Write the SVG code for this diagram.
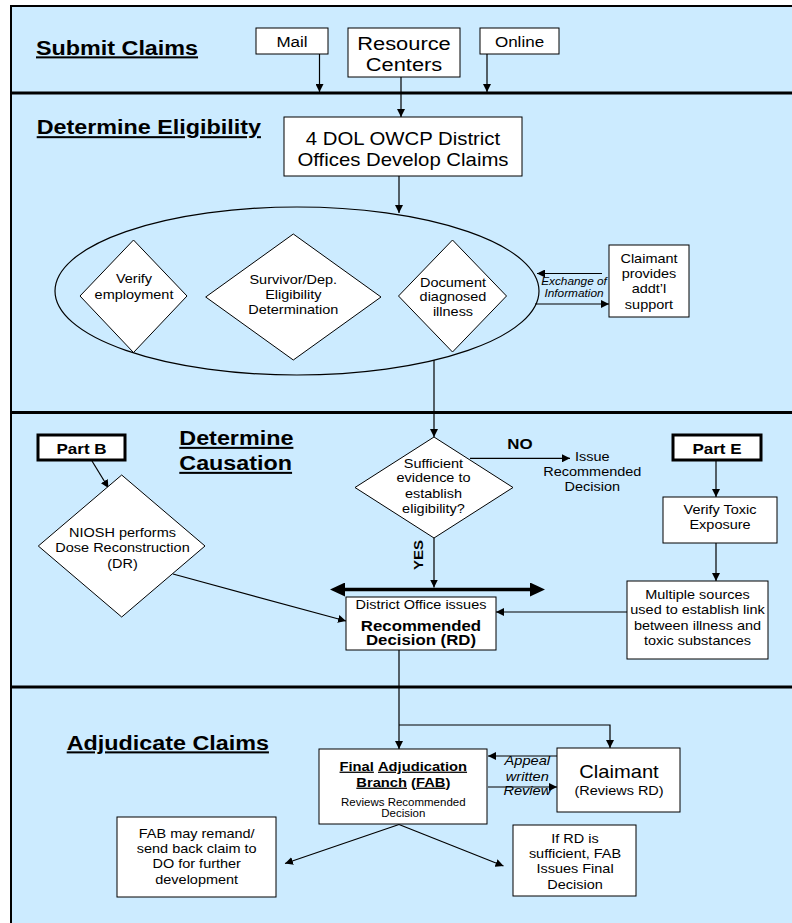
<svg xmlns="http://www.w3.org/2000/svg" width="792" height="923" viewBox="0 0 792 923">
<style>
.bg{fill:#CCEBFF;stroke:#000;stroke-width:2}
.sep{stroke:#000;stroke-width:3}
.box{fill:#fff;stroke:#000;stroke-width:1}
.tbox{fill:#fff;stroke:#000;stroke-width:3}
.t{font-family:"Liberation Sans",Arial,Helvetica,sans-serif;fill:#000}
.c{text-anchor:middle}
.b{font-weight:bold}
.i{font-style:italic}
.u{text-decoration:underline}
.title{font-size:20.3px;font-weight:bold;text-decoration:underline}
.n{font-size:12.6px}
#connectors line,#connectors path{stroke:#000;stroke-width:1.2;fill:none}
#connectors .big{stroke-width:3.3}
</style>
<defs>
<marker id="ah" markerUnits="userSpaceOnUse" markerWidth="8" markerHeight="8" refX="8" refY="4" orient="auto"><path d="M0,0 L8,4 L0,8 Z" fill="#000"/></marker>
<marker id="big" markerUnits="userSpaceOnUse" markerWidth="15" markerHeight="14" refX="2" refY="7" orient="auto-start-reverse"><path d="M0,0 L15,7 L0,14 Z" fill="#000"/></marker>
</defs>
<rect class="bg" x="11" y="6" width="800" height="940"/>
<line class="sep" x1="11" y1="93" x2="792" y2="93"/>
<line class="sep" x1="11" y1="412.5" x2="792" y2="412.5"/>
<line class="sep" x1="11" y1="687" x2="792" y2="687"/>

<g id="title-submit"><text class="t title" transform="translate(36,54.5) scale(1.15,1)">Submit Claims</text></g>
<g id="title-eligibility"><text class="t title" transform="translate(36.7,134.3) scale(1.15,1)">Determine Eligibility</text></g>
<g id="title-causation"><text class="t title" transform="translate(179.3,445) scale(1.15,1)"><tspan x="0">Determine</tspan><tspan x="0" dy="25">Causation</tspan></text></g>
<g id="title-adjudicate"><text class="t title" transform="translate(66.7,749.5) scale(1.15,1)">Adjudicate Claims</text></g>

<g id="connectors">
<line x1="319.5" y1="54" x2="319.5" y2="92" marker-end="url(#ah)"/>
<line x1="401" y1="77" x2="401" y2="117" marker-end="url(#ah)"/>
<line x1="487" y1="54" x2="487" y2="92" marker-end="url(#ah)"/>
<line x1="399" y1="176" x2="399" y2="213" marker-end="url(#ah)"/>
<line x1="602" y1="273.5" x2="537" y2="273.5" marker-end="url(#ah)"/>
<line x1="535" y1="304" x2="609" y2="304" marker-end="url(#ah)"/>
<line x1="434" y1="360" x2="434" y2="437" marker-end="url(#ah)"/>
<line x1="470" y1="458.3" x2="570" y2="458.3" marker-end="url(#ah)"/>
<line x1="92" y1="461" x2="108.5" y2="488" marker-end="url(#ah)"/>
<line x1="716" y1="461" x2="716" y2="497" marker-end="url(#ah)"/>
<line x1="716" y1="543" x2="716" y2="581" marker-end="url(#ah)"/>
<line x1="434" y1="538" x2="434" y2="587.5" marker-end="url(#ah)"/>
<line class="big" x1="343" y1="589.5" x2="532" y2="589.5" marker-start="url(#big)" marker-end="url(#big)"/>
<line x1="173" y1="574" x2="346" y2="621" marker-end="url(#ah)"/>
<line x1="627" y1="612" x2="496" y2="612" marker-end="url(#ah)"/>
<line x1="399" y1="650" x2="399" y2="749" marker-end="url(#ah)"/>
<path d="M399,725 H610 V748" marker-end="url(#ah)"/>
<line x1="557" y1="756" x2="488" y2="756" marker-end="url(#ah)"/>
<line x1="488" y1="787" x2="557" y2="787" marker-end="url(#ah)"/>
<line x1="399" y1="824.5" x2="285" y2="863.5" marker-end="url(#ah)"/>
<line x1="399" y1="824.5" x2="503.5" y2="866" marker-end="url(#ah)"/>
</g>

<g id="mail"><rect class="box" x="256" y="28" width="72" height="26"/><text class="t c" font-size="14.8" transform="translate(292,47) scale(1.15,1)">Mail</text></g>
<g id="resource-centers"><rect class="box" x="348" y="28" width="112" height="49"/><text class="t c" font-size="19" transform="translate(404,50) scale(1.15,1)"><tspan x="0">Resource</tspan><tspan x="0" dy="21.5">Centers</tspan></text></g>
<g id="online"><rect class="box" x="480" y="28" width="79" height="26"/><text class="t c" font-size="14.8" transform="translate(519.5,47) scale(1.15,1)">Online</text></g>

<g id="dol-offices"><rect class="box" x="284" y="117" width="238" height="59"/><text class="t c" font-size="17.7" transform="translate(403,145) scale(1.15,1)"><tspan x="0">4 DOL OWCP District</tspan><tspan x="0" dy="20.7">Offices Develop Claims</tspan></text></g>

<g id="verify-employment"><polygon class="box" points="133.5,240 187,296 133.5,352.5 80,296"/><text class="t c n" transform="translate(134,283) scale(1.15,1)"><tspan x="0">Verify</tspan><tspan x="0" dy="16">employment</tspan></text></g>
<g id="survivor"><polygon class="box" points="293.3,234 381,297 293.3,360 205.7,297"/><text class="t c n" transform="translate(293.3,284.3) scale(1.15,1)"><tspan x="0">Survivor/Dep.</tspan><tspan x="0" dy="15">Eligibility</tspan><tspan x="0" dy="15">Determination</tspan></text></g>
<g id="document-illness"><polygon class="box" points="452.5,240 506.5,296 452.5,352 398.5,296"/><text class="t c n" transform="translate(453,286.7) scale(1.15,1)"><tspan x="0">Document</tspan><tspan x="0" dy="14.5">diagnosed</tspan><tspan x="0" dy="15">illness</tspan></text></g>
<g id="eligibility-group"><ellipse cx="297" cy="291" rx="242" ry="84" fill="none" stroke="#000" stroke-width="1.2"/></g>
<g id="exchange-label"><text class="t c i" font-size="10.3" transform="translate(574,285.3) scale(1.15,1)"><tspan x="0">Exchange of</tspan><tspan x="0" dy="11.7">Information</tspan></text></g>
<g id="claimant-support"><rect class="box" x="609" y="245" width="80" height="72"/><text class="t c n" transform="translate(649,262.7) scale(1.15,1)"><tspan x="0">Claimant</tspan><tspan x="0" dy="15.5">provides</tspan><tspan x="0" dy="15.2">addt’l</tspan><tspan x="0" dy="15.5">support</tspan></text></g>

<g id="part-b"><rect class="tbox" x="38" y="435" width="87" height="25"/><text class="t c b" font-size="14.8" transform="translate(81.5,454) scale(1.15,1)">Part B</text></g>
<g id="niosh"><polygon class="box" points="121.7,475 205,546 121.7,617 38.3,546"/><text class="t c n" transform="translate(122.5,536.7) scale(1.15,1)"><tspan x="0">NIOSH performs</tspan><tspan x="0" dy="15">Dose Reconstruction</tspan><tspan x="0" dy="16">(DR)</tspan></text></g>
<g id="sufficient-evidence"><polygon class="box" points="434,437 513,487.5 434,538 355,487.5"/><text class="t c n" transform="translate(433.5,467.7) scale(1.15,1)"><tspan x="0">Sufficient</tspan><tspan x="0" dy="14.6">evidence to</tspan><tspan x="0" dy="15.4">establish</tspan><tspan x="0" dy="15.6">eligibility?</tspan></text></g>
<g id="no-label"><text class="t c b" font-size="14.7" transform="translate(520,449) scale(1.15,1)">NO</text></g>
<g id="issue-rd"><text class="t c n" transform="translate(592.3,460.7) scale(1.15,1)"><tspan x="0">Issue</tspan><tspan x="0" dy="15">Recommended</tspan><tspan x="0" dy="15">Decision</tspan></text></g>
<g id="yes-label"><text class="t c b" font-size="13" transform="translate(423,555) rotate(-90) scale(1.15,1)">YES</text></g>
<g id="part-e"><rect class="tbox" x="673" y="435" width="88" height="25"/><text class="t c b" font-size="14.8" transform="translate(717,454) scale(1.15,1)">Part E</text></g>
<g id="verify-toxic"><rect class="box" x="663" y="497" width="114" height="46"/><text class="t c n" transform="translate(720,514) scale(1.15,1)"><tspan x="0">Verify Toxic</tspan><tspan x="0" dy="14.7">Exposure</tspan></text></g>
<g id="multiple-sources"><rect class="box" x="627" y="581" width="141" height="78"/><text class="t c n" transform="translate(697.5,599.3) scale(1.15,1)"><tspan x="0">Multiple sources</tspan><tspan x="0" dy="15">used to establish link</tspan><tspan x="0" dy="15.7">between illness and</tspan><tspan x="0" dy="15">toxic substances</tspan></text></g>
<g id="district-office"><rect class="box" x="346" y="597" width="150" height="53"/><text class="t c n" transform="translate(421,609.3) scale(1.15,1)">District Office issues</text><text class="t c b" font-size="14.6" transform="translate(421,630.5) scale(1.15,1)"><tspan x="0">Recommended</tspan><tspan x="0" dy="14.5">Decision (RD)</tspan></text></g>

<g id="fab"><rect class="box" x="319" y="749" width="168" height="75"/><text class="t c b" font-size="12.8" transform="translate(403.3,770.7) scale(1.15,1)"><tspan x="0"><tspan class="u">Final</tspan> <tspan class="u">Adjudication</tspan></tspan><tspan x="0" dy="16"><tspan class="u">Branch</tspan> (<tspan class="u">FAB</tspan>)</tspan></text><text class="t c" font-size="10" transform="translate(403.3,805.7) scale(1.15,1)"><tspan x="0">Reviews Recommended</tspan><tspan x="0" dy="11.6">Decision</tspan></text></g>
<g id="appeal-label"><text class="t c i" font-size="12.7" transform="translate(527.3,765) scale(1.15,1)"><tspan x="0">Appeal</tspan><tspan x="0" dy="15.7">written</tspan><tspan x="0" dy="14.3">Review</tspan></text></g>
<g id="claimant-reviews"><rect class="box" x="557" y="748" width="123" height="64"/><text class="t c" font-size="17.5" transform="translate(619,778.3) scale(1.15,1)">Claimant</text><text class="t c n" transform="translate(619,795) scale(1.15,1)">(Reviews RD)</text></g>
<g id="fab-remand"><rect class="box" x="117" y="817" width="159" height="80"/><text class="t c n" transform="translate(196.7,838.3) scale(1.15,1)"><tspan x="0">FAB may remand/</tspan><tspan x="0" dy="15">send back claim to</tspan><tspan x="0" dy="15">DO for further</tspan><tspan x="0" dy="15.7">development</tspan></text></g>
<g id="final-decision"><rect class="box" x="513" y="825" width="123" height="71"/><text class="t c n" transform="translate(575,843.3) scale(1.15,1)"><tspan x="0">If RD is</tspan><tspan x="0" dy="15">sufficient, FAB</tspan><tspan x="0" dy="15">Issues Final</tspan><tspan x="0" dy="16">Decision</tspan></text></g>
</svg>
